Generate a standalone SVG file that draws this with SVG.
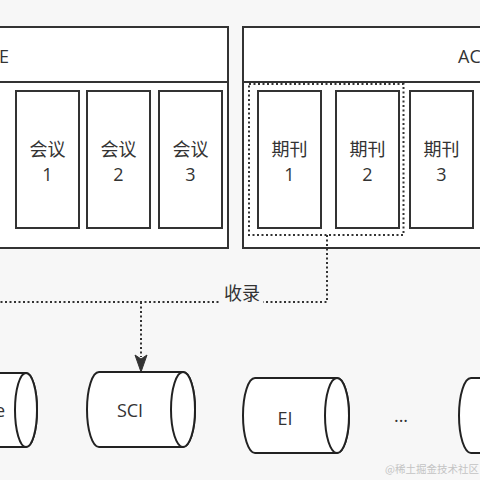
<svg xmlns="http://www.w3.org/2000/svg" width="480" height="480" viewBox="0 0 480 480">
<defs>
<style>
.bg{fill:#f7f7f7}
.box{fill:#ffffff;stroke:#333333;stroke-width:2}
.cyl{fill:#ffffff;stroke:#222222;stroke-width:2}
.t{font-family:"Open Sans","Noto Sans CJK SC",sans-serif;font-size:18px;fill:#333333;text-anchor:middle}
.dot{fill:none;stroke:#333333;stroke-width:2;stroke-dasharray:2 2.5}
.wm{font-family:"Noto Sans CJK SC",sans-serif;font-size:10.5px;fill:#c4c4c4;text-anchor:end}
</style>
<marker id="arr" markerWidth="14" markerHeight="18" viewBox="0 0 14 18" refX="7" refY="17" orient="auto-start-reverse" markerUnits="userSpaceOnUse">
<path d="M1,0 L7,4 L13,0 L7,17 Z" fill="#333333" transform="rotate(0)"/>
</marker>
</defs>
<rect class="bg" x="0" y="0" width="480" height="480"/>

<g id="ieee">
<rect class="box" x="-20" y="27" width="248" height="221"/>
<line x1="-20" y1="82" x2="228" y2="82" stroke="#333333" stroke-width="2"/>
<text class="t" x="9" y="63" style="text-anchor:end">E</text>
</g>
<g id="conf1">
<rect class="box" x="16" y="91" width="63" height="137"/>
<text class="t" x="47.5" y="156">会议</text>
<text class="t" x="47.5" y="181">1</text>
</g>
<g id="conf2">
<rect class="box" x="87" y="91" width="63" height="137"/>
<text class="t" x="118.5" y="156">会议</text>
<text class="t" x="118.5" y="181">2</text>
</g>
<g id="conf3">
<rect class="box" x="159" y="91" width="63" height="137"/>
<text class="t" x="190.5" y="156">会议</text>
<text class="t" x="190.5" y="181">3</text>
</g>

<g id="acm">
<rect class="box" x="243" y="27" width="260" height="221"/>
<line x1="243" y1="82" x2="503" y2="82" stroke="#333333" stroke-width="2"/>
<text class="t" x="458" y="63" style="text-anchor:start">AC</text>
</g>
<g id="journal1">
<rect class="box" x="258" y="91" width="63" height="137"/>
<text class="t" x="289.5" y="156">期刊</text>
<text class="t" x="289.5" y="181">1</text>
</g>
<g id="journal2">
<rect class="box" x="336" y="91" width="63" height="137"/>
<text class="t" x="367.5" y="156">期刊</text>
<text class="t" x="367.5" y="181">2</text>
</g>
<g id="journal3">
<rect class="box" x="410" y="91" width="63" height="137"/>
<text class="t" x="441.5" y="156">期刊</text>
<text class="t" x="441.5" y="181">3</text>
</g>
<g id="group">
<rect class="dot" x="249" y="84" width="154.5" height="151"/>
</g>

<g id="connectors">
<path class="dot" d="M327,235 V302 H0"/>
<path class="dot" d="M141,302 V357"/>
<path d="M135,355 L141,359 L147,355 L141,372 Z" fill="#333333" stroke="#333333" stroke-width="1" stroke-linejoin="miter"/>
<rect x="221" y="285" width="42" height="18" fill="#f7f7f7"/>
<text class="t" x="242" y="300">收录</text>
</g>

<g id="wos">
<path class="cyl" d="M-68,373 H26 A11,37 0 0 1 26,447 H-68 A11,37 0 0 1 -68,373 Z"/>
<ellipse class="cyl" cx="26" cy="410" rx="11" ry="37"/>
<text class="t" x="5" y="417" style="text-anchor:end">e</text>
</g>
<g id="sci">
<path class="cyl" d="M99,372 H183 A12,37.5 0 0 1 183,447 H99 A12,37.5 0 0 1 99,372 Z"/>
<ellipse class="cyl" cx="183" cy="409.5" rx="12" ry="37.5"/>
<text class="t" x="130" y="417">SCI</text>
</g>
<g id="ei">
<path class="cyl" d="M255,378 H337 A12,37.5 0 0 1 337,453 H255 A12,37.5 0 0 1 255,378 Z"/>
<ellipse class="cyl" cx="337" cy="415.5" rx="12" ry="37.5"/>
<text class="t" x="285" y="425">EI</text>
</g>
<g id="more">
<text class="t" x="401" y="422">...</text>
</g>
<g id="other">
<path class="cyl" d="M471,378 H560 A12,37.5 0 0 1 560,453 H471 A12,37.5 0 0 1 471,378 Z"/>
</g>

<text class="wm" x="479" y="473">@稀土掘金技术社区</text>
</svg>
